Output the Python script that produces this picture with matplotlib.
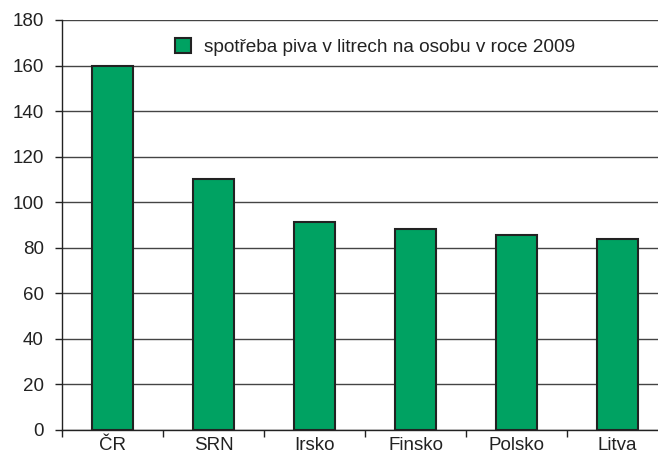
import matplotlib.pyplot as plt
from matplotlib.ticker import FixedLocator, NullFormatter

plt.rcParams['font.family'] = ['Liberation Sans', 'DejaVu Sans']

countries = ["ČR", "SRN", "Irsko", "Finsko", "Polsko", "Litva"]
beer = [160, 110, 91.5, 88.3, 85.7, 84.0]
label = "spotřeba piva v litrech na osobu v roce 2009"

W, H = 658, 455
fig = plt.figure(figsize=(W / 100, H / 100), dpi=100)
# axes extend slightly past the right edge, like the cropped original
ax = fig.add_axes([62 / W, 25 / H, 606 / W, 410 / H])

x = list(range(len(countries)))
ax.bar(x, beer, width=0.41, color="#00a262", edgecolor="#222222",
       linewidth=1.5, label=label, zorder=3)

ax.set_xlim(-0.5, len(countries) - 0.5)
ax.set_ylim(0, 180)
ax.set_yticks(range(0, 181, 20))
ax.yaxis.grid(True, color="#444444", linewidth=1.0, zorder=0)

ax.set_xticks(x)
ax.set_xticklabels(countries, fontsize=13.5, color="#222222")
ax.tick_params(axis="x", which="major", length=0, pad=5)
ax.xaxis.set_minor_locator(FixedLocator([i - 0.5 for i in range(len(countries) + 1)]))
ax.xaxis.set_minor_formatter(NullFormatter())
ax.tick_params(axis="x", which="minor", length=5, width=1.0, color="#222222")
ax.tick_params(axis="y", length=5, width=1.0, color="#222222",
               labelsize=13.5, labelcolor="#222222", pad=8)

for s in ["top", "right"]:
    ax.spines[s].set_visible(False)
for s in ["left", "bottom"]:
    ax.spines[s].set_color("#222222")
    ax.spines[s].set_linewidth(1.0)

ax.legend(loc="upper left", bbox_to_anchor=(158 / W, 1 - 21 / H),
          bbox_transform=fig.transFigure, frameon=False, fontsize=13.7,
          handlelength=0.84, handleheight=0.84, handletextpad=0.68,
          labelcolor="#222222")

fig.savefig("out.png", dpi=100)
